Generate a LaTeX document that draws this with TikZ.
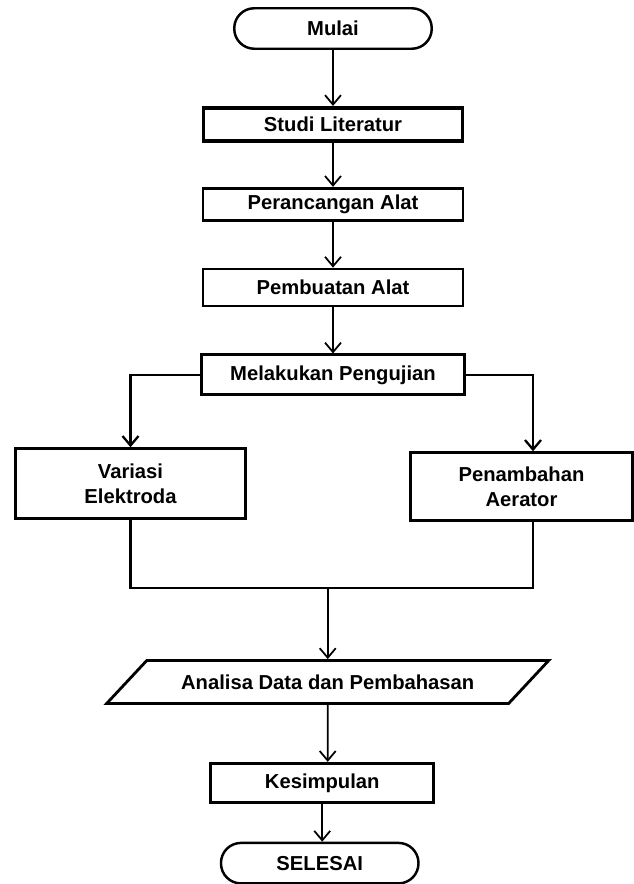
\documentclass[tikz,border=0pt]{standalone}
\usepackage{fontspec}
\setmainfont{Liberation Sans}
\usepackage{tikz}
\usetikzlibrary{shapes, arrows.meta, calc, positioning}

\begin{document}
\begin{tikzpicture}[>={Straight Barb[length=1.9mm,width=3.2mm]}, font=\bfseries\fontsize{11.5pt}{14pt}\selectfont]
	\tikzstyle{proses} = [draw, line width=1.6pt, rectangle, inner sep=0pt, align=center]
	\tikzstyle{terminal} = [draw, line width=1.4pt, rectangle, rounded corners=0.4cm, minimum width=3.95cm, minimum height=0.81cm, inner sep=0pt]
	\tikzstyle{data} = [draw, line width=1.6pt, trapezium, trapezium left angle=47, trapezium right angle=133, trapezium stretches body=true, minimum width=8.84cm, inner xsep=0pt, inner ysep=8pt]
	\tikzstyle{panah} = [->, line width=1pt]
	\tikzstyle{cabang} = [->, line width=1.3pt]
	\tikzstyle{gabungan} = [line width=1.5pt]

	\useasboundingbox (0,0) rectangle (12.66,-17.68);

	\node[terminal] (mulai) at (6.66,-0.57) {Mulai};
	\node[proses, line width=2.2pt, minimum width=5.18cm, minimum height=0.66cm, below=1.12cm of mulai] (studi) {Studi Literatur};
	\node[proses, minimum width=5.2cm, minimum height=0.64cm, below=0.88cm of studi] (rancang) {Perancangan Alat};
	\node[proses, minimum width=5.2cm, minimum height=0.74cm, below=0.92cm of rancang] (buat) {Pembuatan Alat};
	\node[proses, minimum width=5.26cm, minimum height=0.80cm, below=0.92cm of buat] (uji) {Melakukan Pengujian};

	\node[proses, minimum width=4.6cm, minimum height=1.40cm, below=1.02cm of uji, xshift=-4.05cm] (variasi) {Variasi\\Elektroda};
	\node[proses, minimum width=4.44cm, minimum height=1.36cm, below=1.10cm of uji, xshift=3.77cm] (tambah) {Penambahan\\Aerator};

	\coordinate[below=1.36cm of variasi.south] (kiri);
	\coordinate (kanan) at ([xshift=0.23cm]tambah.south |- kiri);
	\coordinate (gabung) at ($(kiri)!0.49!(kanan)$);

	\node[data, below=1.42cm of gabung] (analisa) {Analisa Data dan Pembahasan};
	\node[proses, minimum width=4.46cm, minimum height=0.78cm, below=1.14cm of analisa, xshift=-0.11cm] (simpul) {Kesimpulan};
	\node[terminal, below=0.76cm of simpul, xshift=-0.05cm] (selesai) {SELESAI};

	\draw[panah] (mulai) -- (mulai |- studi.north);
	\draw[panah] (studi) -- (studi |- rancang.north);
	\draw[panah] (rancang) -- (rancang |- buat.north);
	\draw[panah] (buat) -- (buat |- uji.north);
	\draw[cabang] (uji.west) -| (variasi.north);
	\draw[cabang] (uji.east) -| ([xshift=0.23cm]tambah.north);
	\draw[gabungan] (variasi.south) -- (kiri) -- (kanan) -- ([xshift=0.23cm]tambah.south);
	\draw[panah] (gabung) -- (gabung |- analisa.north);
	\draw[panah] (analisa) -- (analisa |- simpul.north);
	\draw[panah] (simpul) -- (simpul |- selesai.north);
\end{tikzpicture}
\end{document}
